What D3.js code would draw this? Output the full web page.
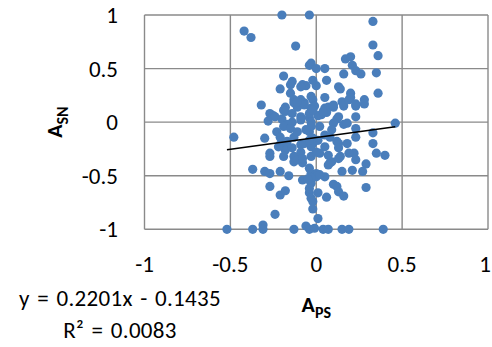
<!DOCTYPE html>
<html>
<head>
<meta charset="utf-8">
<script src="https://cdn.jsdelivr.net/npm/d3@7"></script>
<style>
  body { margin: 0; background: #fff; }
  text { font-family: Carlito, Calibri, Lato, sans-serif; fill: #000; }
</style>
</head>
<body>
<script>
// A_PS values (x) and A_SN values (y)
const aps = [
  -0.42, -0.38, -0.20, -0.04, 0.33, -0.12, 0.33, 0.36, 0.17, 0.20,
  0.21, 0.23, 0.26, 0.35, -0.04, -0.03, 0.00, 0.05, 0.16, -0.19,
  -0.14, 0.06, -0.08, -0.06, 0.00, 0.13, -0.21, -0.15, -0.09, 0.14,
  0.36, 0.20, 0.20, -0.03, -0.02, 0.05, -0.32, -0.13, -0.09, -0.18,
  -0.19, -0.07, -0.13, -0.11, -0.03, -0.01, 0.05, 0.07, 0.10, 0.15,
  0.16, 0.23, 0.28, 0.28, -0.27, -0.25, -0.28, -0.24, -0.20, -0.18,
  -0.14, -0.14, -0.09, -0.04, -0.04, 0.03, 0.06, 0.01, 0.12, 0.13,
  0.23, 0.16, 0.18, 0.10, -0.03, -0.09, -0.17, -0.23, -0.30, -0.48,
  -0.04, 0.02, 0.23, 0.33, 0.46, -0.21, -0.13, 0.08, 0.23, -0.21,
  -0.17, -0.09, -0.02, 0.05, 0.13, 0.18, 0.33, -0.27, -0.27, -0.13,
  -0.03, 0.02, 0.14, 0.22, 0.23, 0.35, 0.40, -0.13, -0.08, 0.08,
  0.29, -0.37, -0.30, -0.27, -0.21, -0.16, -0.03, 0.00, 0.15, 0.21,
  0.27, -0.27, -0.21, -0.18, -0.24, -0.52, -0.37, -0.31, -0.31, -0.13,
  -0.06, -0.04, -0.01, 0.04, 0.07, 0.15, 0.19, 0.39, -0.02, 0.01,
  -0.04, -0.03, -0.02, 0.01, 0.06, 0.10, 0.12, 0.13, 0.16, 0.29,
  -0.08, -0.03, 0.00, 0.05, 0.09, 0.07, 0.13, -0.04, -0.03, 0.02,
  -0.04, -0.11, -0.05, 0.19, 0.23, 0.10, 0.04, 0.09, 0.05, 0.01,
  0.12, 0.13, 0.19, -0.03, -0.02, -0.03, 0.00, 0.07, -0.07, -0.02,
  -0.19, -0.15, -0.11, -0.06, -0.17, -0.07, -0.04, -0.18, -0.14, -0.09,
  -0.19, -0.15, -0.11, -0.02, -0.08, -0.22
];
const asn = [
  0.85, 0.79, 1.00, 1.00, 0.94, 0.71, 0.72, 0.62, 0.59, 0.61,
  0.53, 0.48, 0.45, 0.46, 0.53, 0.55, 0.50, 0.50, 0.45, 0.43,
  0.38, 0.39, 0.35, 0.34, 0.34, 0.33, 0.31, 0.27, 0.33, 0.31,
  0.27, 0.27, 0.23, 0.24, 0.21, 0.23, 0.16, 0.21, 0.21, 0.14,
  0.11, 0.18, 0.18, 0.14, 0.13, 0.15, 0.13, 0.14, 0.14, 0.19,
  0.15, 0.15, 0.21, 0.17, 0.08, 0.06, 0.01, 0.05, 0.03, 0.10,
  0.08, 0.00, 0.05, 0.04, 0.08, 0.07, 0.09, 0.06, 0.03, 0.05,
  0.05, -0.02, -0.01, -0.01, 0.00, 0.02, -0.02, -0.09, -0.15, -0.14,
  -0.09, -0.04, -0.06, -0.10, -0.01, -0.14, -0.14, -0.14, -0.14, -0.21,
  -0.23, -0.21, -0.20, -0.23, -0.20, -0.20, -0.20, -0.29, -0.32, -0.32,
  -0.32, -0.29, -0.32, -0.29, -0.35, -0.29, -0.31, -0.37, -0.38, -0.38,
  -0.39, -0.44, -0.46, -0.48, -0.46, -0.50, -0.48, -0.48, -0.46, -0.45,
  -0.46, -0.60, -0.68, -0.64, -0.86, -1.00, -1.00, -0.96, -1.00, -1.00,
  -0.97, -1.00, -0.99, -1.00, -1.00, -1.00, -1.00, -1.00, -0.81, -0.90,
  -0.66, -0.71, -0.74, -0.66, -0.70, -0.58, -0.60, -0.65, -0.69, -0.61,
  -0.54, -0.57, -0.51, -0.51, -0.37, -0.40, -0.34, -0.43, -0.52, -0.49,
  -0.62, -0.35, -0.53, 0.21, 0.17, 0.16, 0.10, -0.07, -0.12, -0.17,
  -0.18, -0.24, -0.29, -0.04, -0.15, -0.23, -0.28, -0.31, 0.16, 0.11,
  -0.04, -0.06, -0.09, -0.07, -0.18, -0.20, -0.17, -0.26, -0.24, -0.28,
  -0.32, 0.35, 0.19, 0.39, -0.34, -0.23
];

const xTicks = [-1, -0.5, 0, 0.5, 1];
const yTicks = [-1, -0.5, 0, 0.5, 1];
const xTickLabels = ['-1', '-0.5', '0', '0.5', '1'];
const yTickLabels = ['-1', '-0.5', '0', '0.5', '1'];

// linear trendline from the label
const slope = 0.2201;
const intercept = -0.1435;
const equationText = 'y = 0.2201x - 0.1435';
const r2Value = '0.0083';

const width = 492;
const height = 347;
const plotLeft = 144.5, plotRight = 488, plotTop = 15, plotBottom = 229.3;

const svg = d3.select('body')
  .append('svg')
  .attr('width', width)
  .attr('height', height);

const x = d3.scaleLinear().domain([-1, 1]).range([plotLeft, plotRight]);
const y = d3.scaleLinear().domain([-1, 1]).range([plotBottom, plotTop]);

const gridColor = '#8a8a8a';

// gridlines
svg.append('g')
  .selectAll('line')
  .data(xTicks)
  .join('line')
  .attr('x1', d => x(d)).attr('x2', d => x(d))
  .attr('y1', plotTop).attr('y2', plotBottom)
  .attr('stroke', gridColor)
  .attr('stroke-width', 1.4);

svg.append('g')
  .selectAll('line')
  .data(yTicks)
  .join('line')
  .attr('y1', d => y(d)).attr('y2', d => y(d))
  .attr('x1', plotLeft).attr('x2', plotRight)
  .attr('stroke', gridColor)
  .attr('stroke-width', 1.4);

// tick labels (last one kept inside the window)
svg.append('g')
  .selectAll('text')
  .data(xTicks)
  .join('text')
  .attr('x', d => Math.min(x(d), width - 7))
  .attr('y', 272)
  .attr('text-anchor', 'middle')
  .style('font-size', '23px')
  .text((d, i) => xTickLabels[i]);

svg.append('g')
  .selectAll('text')
  .data(yTicks)
  .join('text')
  .attr('x', 118)
  .attr('y', d => y(d) + 8)
  .attr('text-anchor', 'end')
  .style('font-size', '23px')
  .text((d, i) => yTickLabels[i]);

// points
const points = aps.map((v, i) => ({ x: v, y: asn[i] }));

svg.append('g')
  .selectAll('circle')
  .data(points)
  .join('circle')
  .attr('cx', d => x(d.x))
  .attr('cy', d => y(d.y))
  .attr('r', 4.6)
  .style('fill', '#4a7ebb');

// trendline over the data range
const ext = d3.extent(aps);
svg.append('line')
  .attr('x1', x(ext[0])).attr('y1', y(slope * ext[0] + intercept))
  .attr('x2', x(ext[1])).attr('y2', y(slope * ext[1] + intercept))
  .attr('stroke', '#000')
  .attr('stroke-width', 1.6);

// axis titles
const xTitle = svg.append('text')
  .attr('x', x(0))
  .attr('y', 312)
  .attr('text-anchor', 'middle')
  .style('font-weight', 'bold')
  .style('font-size', '22px');
xTitle.append('tspan').text('A');
xTitle.append('tspan').attr('dy', 6).style('font-size', '16px').text('PS');

const yTitle = svg.append('text')
  .attr('transform', `translate(62, ${(plotTop + plotBottom) / 2}) rotate(-90)`)
  .attr('text-anchor', 'middle')
  .style('font-weight', 'bold')
  .style('font-size', '22px');
yTitle.append('tspan').text('A');
yTitle.append('tspan').attr('dy', 6).style('font-size', '16px').text('SN');

// equation labels
svg.append('text')
  .attr('x', 120)
  .attr('y', 306)
  .attr('text-anchor', 'middle')
  .style('font-size', '23px')
  .style('word-spacing', '2px')
  .style('letter-spacing', '0.3px')
  .text(equationText);

svg.append('text')
  .attr('x', 120)
  .attr('y', 338)
  .attr('text-anchor', 'middle')
  .style('font-size', '23px')
  .style('word-spacing', '2px')
  .style('letter-spacing', '0.3px')
  .text('R² = ' + r2Value);
</script>
</body>
</html>
